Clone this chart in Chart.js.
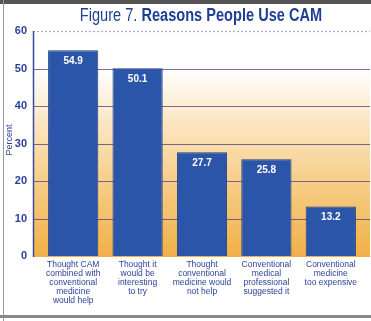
<!DOCTYPE html>
<html>
<head>
<meta charset="utf-8">
<script src="https://cdn.jsdelivr.net/npm/chart.js@4.4.1/dist/chart.umd.min.js"></script>
<style>
  html, body { margin: 0; padding: 0; background: #fff; }
  #wrap { position: relative; width: 371px; height: 321px; overflow: hidden; background: #fff; }
  #title {
    position: absolute; left: 201px; top: 5px; transform: translateX(-50%) scaleX(0.81);
    font-family: "Liberation Sans", Arial, sans-serif;
    font-size: 18px; color: #1f3f94; line-height: 20px; white-space: nowrap;
  }
  #title b { font-weight: bold; }
  canvas { position: absolute; left: 0; top: 0; }
  .frame-top { position: absolute; left: 0; top: 0; width: 371px; height: 4px; background: #555; }
  .frame-left { position: absolute; left: 3px; top: 0; width: 1px; height: 321px; background: #999; }
  .frame-bottom { position: absolute; left: 0; top: 315px; width: 371px; height: 3px; background: #888; }
</style>
</head>
<body>
<div id="wrap">
  <canvas id="chart" width="371" height="321"></canvas>
  <div id="title">Figure 7. <b>Reasons People Use CAM</b></div>
  <div class="frame-top"></div>
  <div class="frame-left"></div>
  <div class="frame-bottom"></div>
</div>
<script>
const categories = [
  ["Thought CAM", "combined with", "conventional", "medicine", "would help"],
  ["Thought it", "would be", "interesting", "to try"],
  ["Thought", "conventional", "medicine would", "not help"],
  ["Conventional", "medical", "professional", "suggested it"],
  ["Conventional", "medicine", "too expensive"]
];
const percents = [54.9, 50.1, 27.7, 25.8, 13.2];
const yTicks = [0, 10, 20, 30, 40, 50, 60];

const BLUE = '#2a55a8';
const TEXT_BLUE = '#2a3f9a';
const AXIS_LEFT = 33;

// gradient background, gridlines and y axis line, drawn from x=33 to the right edge
const backdrop = {
  id: 'backdrop',
  beforeDatasetsDraw(chart) {
    const { ctx, scales } = chart;
    const y = scales.y;
    const right = chart.width - 1;
    const g = ctx.createLinearGradient(0, y.getPixelForValue(0), 0, y.getPixelForValue(50));
    g.addColorStop(0, '#f1b048');
    g.addColorStop(0.35, '#f6ca80');
    g.addColorStop(0.7, '#fbe5c0');
    g.addColorStop(1, '#ffffff');
    ctx.save();
    ctx.fillStyle = g;
    ctx.fillRect(AXIS_LEFT, y.getPixelForValue(60), right - AXIS_LEFT, y.getPixelForValue(0) - y.getPixelForValue(60) + 1);
    yTicks.forEach(v => {
      if (v === 0) return;
      const py = Math.round(y.getPixelForValue(v)) + 0.5;
      ctx.beginPath();
      ctx.lineWidth = 1.2;
      if (v === 60) {
        ctx.setLineDash([2, 2]);
        ctx.strokeStyle = 'rgba(90,90,160,0.5)';
      } else {
        ctx.setLineDash([]);
        ctx.strokeStyle = 'rgba(80,60,120,0.75)';
      }
      ctx.moveTo(AXIS_LEFT, py);
      ctx.lineTo(right, py);
      ctx.stroke();
    });
    ctx.setLineDash([]);
    ctx.strokeStyle = '#3c4a9a';
    ctx.lineWidth = 1.5;
    ctx.beginPath();
    ctx.moveTo(AXIS_LEFT + 0.5, y.getPixelForValue(60));
    ctx.lineTo(AXIS_LEFT + 0.5, y.getPixelForValue(0) + 1);
    ctx.stroke();
    ctx.restore();
  }
};

// value labels inside bar tops + rotated axis title
const barLabels = {
  id: 'barLabels',
  afterDatasetsDraw(chart) {
    const { ctx } = chart;
    const meta = chart.getDatasetMeta(0);
    ctx.save();
    ctx.fillStyle = '#ffffff';
    ctx.font = 'bold 10px "Liberation Sans", Arial, sans-serif';
    ctx.textAlign = 'center';
    ctx.textBaseline = 'middle';
    meta.data.forEach((bar, i) => {
      ctx.fillText(percents[i].toFixed(1), bar.x, bar.y + 11);
    });
    ctx.translate(10, 140);
    ctx.rotate(-Math.PI / 2);
    ctx.fillStyle = TEXT_BLUE;
    ctx.font = '9px "Liberation Sans", Arial, sans-serif';
    ctx.fillText('Percent', 0, 0);
    ctx.restore();
  }
};

new Chart(document.getElementById('chart'), {
  type: 'bar',
  data: {
    labels: categories,
    datasets: [{
      data: percents,
      backgroundColor: BLUE,
      borderColor: '#1e3f8c',
      borderWidth: 1,
      barPercentage: 0.78,
      categoryPercentage: 1
    }]
  },
  options: {
    responsive: false,
    animation: false,
    layout: { padding: { top: 31, right: 8, left: 0, bottom: 0 } },
    plugins: { legend: { display: false }, tooltip: { enabled: false }, title: { display: false } },
    scales: {
      x: {
        grid: { display: false, drawTicks: false },
        border: { display: false },
        ticks: {
          color: TEXT_BLUE,
          padding: 4,
          maxRotation: 0,
          autoSkip: false,
          font: { family: '"Liberation Sans", Arial, sans-serif', size: 8.5, lineHeight: 1.06 }
        },
        afterFit(scale) { scale.height = 65; }
      },
      y: {
        min: 0,
        max: 60,
        grid: { display: false, drawTicks: false },
        border: { display: false },
        ticks: {
          stepSize: 10,
          padding: 14,
          color: TEXT_BLUE,
          font: { family: '"Liberation Sans", Arial, sans-serif', size: 11, weight: 'bold' }
        },
        afterFit(scale) { scale.width = 41; }
      }
    }
  },
  plugins: [backdrop, barLabels]
});
</script>
</body>
</html>
